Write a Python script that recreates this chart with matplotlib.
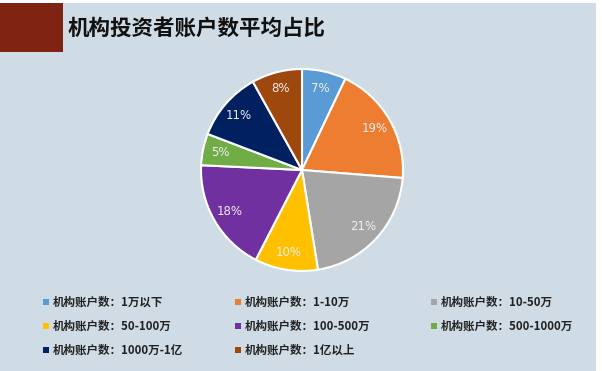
import matplotlib.pyplot as plt
from matplotlib.patches import Rectangle

plt.rcParams['font.family'] = ['Noto Sans CJK SC', 'DejaVu Sans']

# 数据
categories = ['1万以下', '1-10万', '10-50万', '50-100万',
              '100-500万', '500-1000万', '1000万-1亿', '1亿以上']
shares = [7, 19, 21, 10, 18, 5, 11, 8]
colors = ['#5B9BD5', '#ED7D31', '#A5A5A5', '#FFC000',
          '#7030A0', '#70AD47', '#002060', '#9E480E']
prefix = '机构账户数：'

W, H = 602, 371
fig = plt.figure(figsize=(W / 100, H / 100), dpi=100, facecolor='white')

# 背景
fig.add_artist(Rectangle((0, 0), 596 / W, 368 / H, transform=fig.transFigure,
                         facecolor='#cfdce5', edgecolor='none', zorder=0))
fig.add_artist(Rectangle((0, 1 - 52 / H), 63 / W, 49 / H, transform=fig.transFigure,
                         facecolor='#7f2412', edgecolor='none', zorder=1))
fig.text(68 / W, 1 - 28 / H, '机构投资者账户数平均占比', fontsize=15.5,
         fontweight='bold', color='#111111', va='center', ha='left')

# 饼图
cx, cy, r = 302, 170, 103
ax = fig.add_axes([(cx - r) / W, (H - cy - r) / H, 2 * r / W, 2 * r / H])
wedges, texts, autotexts = ax.pie(
    shares, colors=colors, startangle=90, counterclock=False,
    autopct='%d%%', pctdistance=0.83,
    wedgeprops=dict(edgecolor='white', linewidth=1.5),
    textprops=dict(color='#eeeeee', fontsize=8.5, family=['DejaVu Sans']))
ax.set_xlim(-1.02, 1.02)
ax.set_ylim(-1.02, 1.02)
ax.set_aspect('equal')
ax.axis('off')

# 图例
col_x = [43, 235, 431]
row_y = [302, 326, 350]
for i, (cat, col) in enumerate(zip(categories, colors)):
    row, c = divmod(i, 3)
    x, y = col_x[c], row_y[row]
    fig.add_artist(Rectangle((x / W, 1 - (y + 3) / H), 6 / W, 6 / H,
                             transform=fig.transFigure, facecolor=col,
                             edgecolor='none'))
    fig.text((x + 10) / W, 1 - y / H, prefix + cat, fontsize=8.3,
             fontweight='bold', color='#222222', va='center', ha='left')

fig.savefig('out.png', dpi=100, facecolor=fig.get_facecolor())
